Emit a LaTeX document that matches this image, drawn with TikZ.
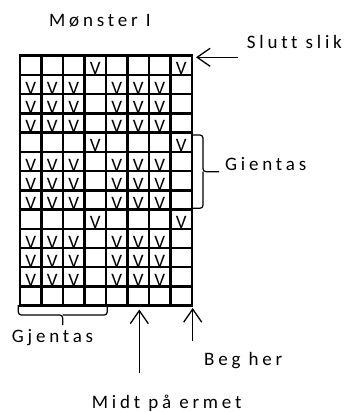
\documentclass[tikz,border=0pt]{standalone}
\usepackage{fontspec}
\setmainfont{Carlito}[LetterSpace=20, Ligatures=NoCommon]
\newfontfamily\rutefont{Carlito}
\usetikzlibrary{arrows.meta}

\tikzstyle{lbl} = [font=\fontsize{19}{21}\selectfont, inner sep=0pt, anchor=base west]
\tikzstyle{rute} = [line width=2.5pt, line cap=rect]
\tikzstyle{merke} = [font=\rutefont\fontsize{19}{21}\selectfont, inner sep=0pt, anchor=base]
\tikzstyle{pil} = [line width=1.3pt, -{Straight Barb[length=13pt,width=18pt,line width=1.3pt]}]
\tikzstyle{klamme} = [line width=1.2pt, rounded corners=3pt]

\begin{document}
\begin{tikzpicture}[x=1pt, y=-1pt]
\useasboundingbox (0,0) rectangle (349,412);

% rutenett, 8 x 13
\foreach \i in {0,...,8}
  \draw[rute] (20+21.5*\i,55.7) -- (20+21.5*\i,305.7);
\foreach \j in {0,...,13}
  \draw[rute] (20,55.7+19.23*\j) -- (192,55.7+19.23*\j);

% masker
\foreach \r in {1,5,9}
  \foreach \c in {4,8}
    \node[merke] at (20+21.5*\c-10.75,55.7+19.23*\r) {V};
\foreach \r in {2,3,4,6,7,8,10,11,12}
  \foreach \c in {1,2,3,5,6,7}
    \node[merke] at (20+21.5*\c-10.75,55.7+19.23*\r) {V};

% tekster
\node[lbl] (title) at (49,26.7) {Mønster I};
\node[lbl] (slutt) at (246.7,48.3) {Slutt slik};
\node[lbl] (gientas) at (225,170.7) {Gientas};
\node[lbl] (gjentas) at (11.7,342.3) {Gjentas};
\node[lbl] (beg) at (204,365) {Beg her};
\node[lbl] (midt) at (91.7,408.3) {Midt på ermet};

% piler
\coordinate (slutt hale) at (237.7,57.3);
\coordinate (slutt spiss) at (196,57.3);
\coordinate (midt hale) at (139.3,373.3);
\coordinate (midt spiss) at (139.3,309.5);
\coordinate (beg hale) at (192.7,340.7);
\coordinate (beg spiss) at (192.7,308);
\draw[pil] (slutt hale) -- (slutt spiss);
\draw[pil] (midt hale) -- (midt spiss);
\draw[pil] (beg hale) -- (beg spiss);

% klammer
\draw[klamme] (192.7,135) -| (203,171.7) -- (219,171.7);
\draw[klamme] (192.7,208.3) -| (203,171.7);
\draw[klamme] (18.3,305) |- (62.7,315) -- (62.7,325);
\draw[klamme] (107.3,305) |- (62.7,315);
\end{tikzpicture}
\end{document}
